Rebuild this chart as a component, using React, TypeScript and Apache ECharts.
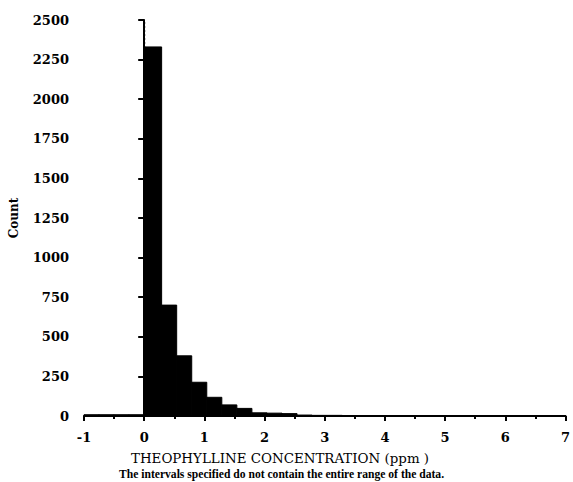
import React, { useEffect, useRef } from "react";
import * as echarts from "echarts";

const binEdges = [-1, -0.75, -0.5, -0.25, 0, 0.29, 0.54, 0.79, 1.04, 1.29, 1.54, 1.79, 2.04, 2.29, 2.54, 2.79, 3.04, 3.29, 3.54, 3.79, 4.04, 4.29, 4.54, 4.79, 5.04, 5.29, 5.54, 5.79, 6.04, 6.29, 6.54, 6.79, 7.0];
const counts = [8, 8, 8, 8, 2330, 700, 380, 213, 118, 70, 48, 20, 18, 15, 6, 4, 4, 3, 3, 3, 2, 2, 2, 2, 2, 3, 3, 2, 2, 2, 3, 2];
const yTicks = [0, 250, 500, 750, 1000, 1250, 1500, 1750, 2000, 2250, 2500];
const xTicks = [-1, 0, 1, 2, 3, 4, 5, 6, 7];
const xTitle = "THEOPHYLLINE CONCENTRATION (ppm )";
const yTitle = "Count";
const note = "The intervals specified do not contain the entire range of the data.";
const refLineX = 0;

const FONT = "DejaVu Serif";

export default function App() {
  const ref = useRef<HTMLDivElement>(null);
  useEffect(() => {
    if (!ref.current) return;
    const chart = echarts.init(ref.current, null, { renderer: "svg" });
    const binData = counts.map((c, i) => [binEdges[i], binEdges[i + 1], c]);
    chart.setOption({
      animation: false,
      backgroundColor: "#fff",
      grid: { left: 82, right: 7, top: 20, bottom: 66, containLabel: false },
      xAxis: {
        type: "value",
        min: xTicks[0],
        max: xTicks[xTicks.length - 1],
        interval: 1,
        axisLine: { onZero: false, lineStyle: { color: "#000", width: 2 } },
        axisTick: { show: true, length: 5, lineStyle: { color: "#000", width: 2 } },
        minorTick: { show: true, splitNumber: 2, length: 3, lineStyle: { color: "#000", width: 2 } },
        splitLine: { show: false },
        axisLabel: {
          color: "#000", fontFamily: FONT, fontWeight: "bold", fontSize: 13, margin: 15,
          showMaxLabel: true, showMinLabel: true,
          formatter: (v: number) => String(v),
        },
      },
      yAxis: {
        type: "value",
        min: yTicks[0],
        max: yTicks[yTicks.length - 1],
        interval: 250,
        name: yTitle,
        nameLocation: "middle",
        nameGap: 64,
        nameRotate: 90,
        nameTextStyle: { color: "#000", fontFamily: FONT, fontWeight: "bold", fontSize: 12 },
        axisLine: { show: true, lineStyle: { color: "#000", width: 2 } },
        axisTick: { show: true, length: 6, lineStyle: { color: "#000", width: 2 } },
        splitLine: { show: false },
        axisLabel: {
          color: "#000", fontFamily: FONT, fontWeight: "bold", fontSize: 13, margin: 15,
          formatter: (v: number) => String(v),
        },
      },
      series: [
        {
          type: "line",
          data: [[refLineX, yTicks[0]], [refLineX, yTicks[yTicks.length - 1]]],
          symbol: "none",
          lineStyle: { color: "#000", width: 2, type: [2, 2] },
          z: 1,
        },
        {
          type: "custom",
          z: 2,
          renderItem: (params: any, api: any) => {
            const lo = api.value(0);
            const hi = api.value(1);
            const c = api.value(2);
            const p0 = api.coord([lo, 0]);
            const p1 = api.coord([hi, c]);
            return {
              type: "rect",
              shape: { x: p0[0], y: p1[1], width: p1[0] - p0[0], height: p0[1] - p1[1] },
              style: { fill: "#000", stroke: "#000", lineWidth: 1 },
            };
          },
          encode: { x: [0, 1], y: 2 },
          data: binData,
        },
      ],
      graphic: [
        {
          type: "text",
          left: 131,
          top: 452,
          style: { text: xTitle, fill: "#000", font: `13.4px "${FONT}"` },
        },
        {
          type: "text",
          left: 119,
          top: 468,
          style: { text: note, fill: "#000", font: `bold 11.6px "Liberation Serif"` },
        },
      ],
    });
    return () => chart.dispose();
  }, []);
  return <div ref={ref} style={{ position: "fixed", left: 0, top: 0, width: 573, height: 482 }} />;
}
